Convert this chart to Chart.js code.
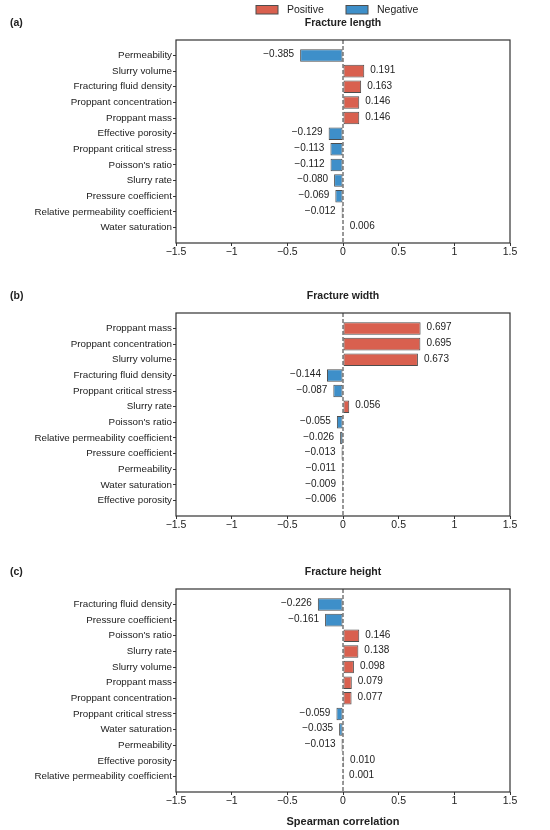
<!DOCTYPE html>
<html>
<head>
<meta charset="utf-8">
<script src="https://cdn.jsdelivr.net/npm/chart.js@4.4.1/dist/chart.umd.min.js"></script>
<style>
  html, body { margin: 0; padding: 0; background: #fff; }
  #wrap { position: relative; width: 550px; height: 830px; }
  .panel { position: absolute; left: 0; width: 550px; }
</style>
</head>
<body>
<div id="wrap">
  <div class="panel" style="top:0;height:270px"><canvas id="chartA"></canvas></div>
  <div class="panel" style="top:273px;height:270px"><canvas id="chartB"></canvas></div>
  <div class="panel" style="top:549px;height:281px"><canvas id="chartC"></canvas></div>
</div>
<script>
// data
const labelsA = ["Permeability", "Slurry volume", "Fracturing fluid density", "Proppant concentration", "Proppant mass", "Effective porosity", "Proppant critical stress", "Poisson's ratio", "Slurry rate", "Pressure coefficient", "Relative permeability coefficient", "Water saturation"];
const valuesA = [-0.385, 0.191, 0.163, 0.146, 0.146, -0.129, -0.113, -0.112, -0.080, -0.069, -0.012, 0.006];

const labelsB = ["Proppant mass", "Proppant concentration", "Slurry volume", "Fracturing fluid density", "Proppant critical stress", "Slurry rate", "Poisson's ratio", "Relative permeability coefficient", "Pressure coefficient", "Permeability", "Water saturation", "Effective porosity"];
const valuesB = [0.697, 0.695, 0.673, -0.144, -0.087, 0.056, -0.055, -0.026, -0.013, -0.011, -0.009, -0.006];

const labelsC = ["Fracturing fluid density", "Pressure coefficient", "Poisson's ratio", "Slurry rate", "Slurry volume", "Proppant mass", "Proppant concentration", "Proppant critical stress", "Water saturation", "Permeability", "Effective porosity", "Relative permeability coefficient"];
const valuesC = [-0.226, -0.161, 0.146, 0.138, 0.098, 0.079, 0.077, -0.059, -0.035, -0.013, 0.010, 0.001];

const xTicks = [-1.5, -1, -0.5, 0, 0.5, 1, 1.5];
const xTickLabels = ["\u22121.5", "\u22121", "\u22120.5", "0", "0.5", "1", "1.5"];
const legendNames = ["Positive", "Negative"];

const RED = "#d9604f";
const BLUE = "#3e8fc9";
const EDGE = "#4d4d4d";
const FONT = "'Liberation Sans', Arial, sans-serif";

function fmt(v) {
    const s = Math.abs(v).toFixed(3);
    return v < 0 ? "\u2212" + s : s;
}

// box, zero line, value labels, titles, legend
const decoPlugin = {
    id: "deco",
    afterDatasetsDraw(chart, args, opts) {
        const ctx = chart.ctx;
        const a = chart.chartArea;
        const xs = chart.scales.x;
        const ys = chart.scales.y;
        const values = chart.data.datasets[0].data.map(d => d.x);
        ctx.save();

        // dashed zero line
        const x0 = xs.getPixelForValue(0);
        ctx.strokeStyle = "#333";
        ctx.lineWidth = 1;
        ctx.setLineDash([4, 2]);
        ctx.beginPath();
        ctx.moveTo(x0, a.top);
        ctx.lineTo(x0, a.bottom);
        ctx.stroke();
        ctx.setLineDash([]);

        // frame
        ctx.strokeStyle = "#333";
        ctx.lineWidth = 1.2;
        ctx.strokeRect(a.left, a.top, a.right - a.left, a.bottom - a.top);

        // value labels
        ctx.fillStyle = "#222";
        ctx.font = "10px " + FONT;
        ctx.textBaseline = "middle";
        values.forEach((v, i) => {
            const px = xs.getPixelForValue(v);
            const py = ys.getPixelForValue(i) - 1;
            if (v < 0) {
                ctx.textAlign = "right";
                ctx.fillText(fmt(v), px - 6, py);
            } else {
                ctx.textAlign = "left";
                ctx.fillText(fmt(v), px + 6, py);
            }
        });

        // panel letter and title
        ctx.font = "bold 10.5px " + FONT;
        ctx.textAlign = "left";
        ctx.fillText(opts.letter, 10, a.top - 17);
        ctx.textAlign = "center";
        ctx.fillText(opts.title, (a.left + a.right) / 2, a.top - 17);

        if (opts.xTitle) {
            ctx.font = "bold 11px " + FONT;
            ctx.fillText(opts.xTitle, (a.left + a.right) / 2, a.bottom + 30);
        }

        if (opts.legend) {
            ctx.font = "10.5px " + FONT;
            ctx.textAlign = "left";
            const cols = [RED, BLUE];
            let lx = 256;
            legendNames.forEach((name, k) => {
                ctx.fillStyle = cols[k];
                ctx.fillRect(lx, 5.5, 22, 8.5);
                ctx.strokeStyle = EDGE;
                ctx.lineWidth = 1;
                ctx.strokeRect(lx, 5.5, 22, 8.5);
                ctx.fillStyle = "#222";
                ctx.fillText(name, lx + 31, 10);
                lx += 90;
            });
        }
        ctx.restore();
    }
};

function makeChart(id, labels, values, opts, bottomPad) {
    new Chart(document.getElementById(id), {
        type: "bar",
        data: {
            datasets: [{
                data: values.map((v, i) => ({ x: v, y: i })),
                backgroundColor: values.map(v => v >= 0 ? RED : BLUE),
                borderColor: EDGE,
                borderWidth: 1,
                borderSkipped: false,
                categoryPercentage: 1,
                barPercentage: 0.8
            }]
        },
        options: {
            indexAxis: "y",
            responsive: true,
            maintainAspectRatio: false,
            animation: false,
            layout: { padding: { top: 40, right: 40, bottom: bottomPad, left: 0 } },
            plugins: {
                legend: { display: false },
                tooltip: { enabled: false },
                deco: opts
            },
            scales: {
                x: {
                    type: "linear",
                    min: -1.5,
                    max: 1.5,
                    afterBuildTicks: s => { s.ticks = xTicks.map(v => ({ value: v })); },
                    afterFit: s => { s.height = 18; },
                    ticks: {
                        callback: (v) => xTickLabels[xTicks.indexOf(v)],
                        font: { family: FONT, size: 10.5 },
                        color: "#222",
                        padding: 0,
                        maxRotation: 0
                    },
                    grid: { drawOnChartArea: false, drawTicks: true, tickLength: 3, color: "#333", offset: false },
                    border: { display: false }
                },
                y: {
                    type: "linear",
                    reverse: true,
                    offset: false,
                    min: -0.99,
                    max: labels.length - 1 + 0.99,
                    afterBuildTicks: s => { s.ticks = labels.map((_, i) => ({ value: i })); },
                    afterFit: s => { s.width = 176; },
                    ticks: {
                        callback: (v) => labels[v],
                        font: { family: FONT, size: 9.8 },
                        color: "#222",
                        padding: 1,
                        autoSkip: false
                    },
                    grid: { drawOnChartArea: false, drawTicks: true, tickLength: 3, color: "#333", offset: false },
                    border: { display: false }
                }
            }
        },
        plugins: [decoPlugin]
    });
}

makeChart("chartA", labelsA, valuesA, { letter: "(a)", title: "Fracture length", legend: true }, 9);
makeChart("chartB", labelsB, valuesB, { letter: "(b)", title: "Fracture width" }, 9);
makeChart("chartC", labelsC, valuesC, { letter: "(c)", title: "Fracture height", xTitle: "Spearman correlation" }, 20);
</script>
</body>
</html>
